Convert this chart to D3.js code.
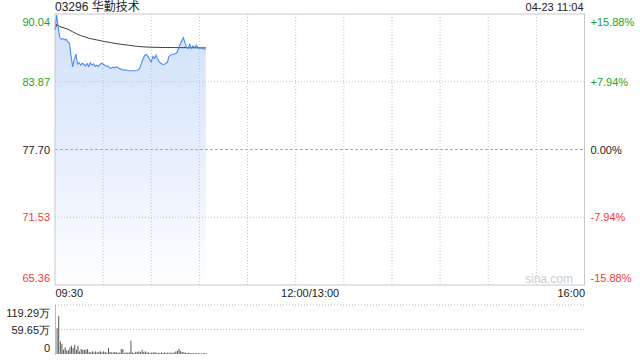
<!DOCTYPE html>
<html>
<head>
<meta charset="utf-8">
<script src="https://cdn.jsdelivr.net/npm/d3@7"></script>
<style>
  body { margin: 0; background: #fff; }
  svg { font-family: "Liberation Sans", Arial, "Noto Sans CJK SC", sans-serif; }
</style>
</head>
<body>
<svg id="chart" width="640" height="360"></svg>
<script>
// 종목 정보
const stockTitle = "03296 华勤技术";
const stampText = "04-23 11:04";
const prevClose = 77.70;

const priceTicks = [90.04, 83.87, 77.70, 71.53, 65.36];
const pctTicks = [15.88, 7.94, 0, -7.94, -15.88];
const volTicks = [119.29, 59.65, 0];
const timeTicks = [0, 150, 330];
const timeLabels = ["09:30", "12:00/13:00", "16:00"];

// 분 단위 가격 (09:30 ~ 11:04)
const prices = [
  88.64, 89.95, 88.80, 87.89, 87.74, 87.80, 87.68, 87.74, 87.50, 87.38,
  86.23, 85.23, 85.93, 86.38, 85.47, 85.62, 85.38, 85.56, 85.44, 85.32,
  85.53, 85.26, 85.62, 85.38, 85.50, 85.26, 85.38, 85.26, 85.44, 85.56,
  85.47, 85.38, 85.26, 85.32, 85.14, 85.08, 85.20, 85.14, 85.23, 85.20,
  85.08, 85.02, 84.96, 84.93, 84.96, 84.90, 84.87, 84.87, 84.87, 84.87,
  84.87, 84.90, 84.96, 85.17, 85.62, 85.99, 86.29, 86.35, 86.17, 85.87,
  85.68, 86.17, 85.99, 86.29, 85.93, 85.68, 85.56, 85.47, 85.44, 85.56,
  85.62, 86.17, 86.29, 86.35, 86.38, 86.41, 86.53, 86.90, 87.29, 87.59,
  87.89, 87.44, 86.99, 86.90, 87.29, 86.90, 87.14, 86.96, 87.20, 87.02,
  86.90, 86.96, 86.90, 86.84, 86.84
];

// 평균가
const avgPrices = [
  88.60, 89.10, 89.00, 88.90, 88.85, 88.80, 88.75, 88.71, 88.65, 88.58,
  88.50, 88.42, 88.34, 88.27, 88.20, 88.14, 88.08, 88.03, 87.98, 87.94,
  87.89, 87.84, 87.80, 87.77, 87.74, 87.71, 87.68, 87.65, 87.62, 87.59,
  87.56, 87.53, 87.51, 87.48, 87.45, 87.43, 87.40, 87.37, 87.35, 87.33,
  87.31, 87.29, 87.27, 87.25, 87.23, 87.21, 87.19, 87.17, 87.15, 87.13,
  87.11, 87.10, 87.08, 87.07, 87.06, 87.05, 87.04, 87.03, 87.03, 87.02,
  87.02, 87.01, 87.01, 87.00, 87.00, 87.00, 86.99, 86.99, 86.99, 86.99,
  86.99, 86.99, 86.99, 86.99, 86.99, 86.98, 86.98, 86.98, 86.98, 86.98,
  86.98, 86.98, 86.97, 86.97, 86.97, 86.97, 86.97, 86.97, 86.96, 86.96,
  86.96, 86.96, 86.96, 86.96, 86.96
];

// 거래량 (만)
const volumes = [
  119.29, 62.9, 92.7, 30.6, 25.0, 10.5, 16.0, 8.9, 8.9, 16.0,
  20.0, 14.5, 22.6, 10.5, 20.0, 6.4, 12.0, 10.5, 10.5, 10.5,
  12.0, 4.8, 4.0, 6.4, 4.0, 6.4, 4.0, 5.6, 6.4, 4.0,
  6.4, 4.8, 3.2, 14.5, 4.8, 4.0, 4.0, 4.8, 4.0, 3.2,
  3.2, 12.0, 12.0, 2.4, 4.0, 3.2, 4.0, 32.2, 4.0, 2.4,
  5.6, 4.8, 6.4, 4.8, 10.5, 4.8, 6.4, 4.0, 4.0, 2.4,
  4.0, 3.2, 4.8, 2.4, 3.2, 2.4, 4.0, 2.4, 4.0, 2.4,
  4.0, 2.4, 4.0, 2.4, 4.0, 6.4, 8.0, 12.0, 7.2, 4.8,
  4.0, 3.2, 2.4, 3.2, 2.4, 2.4, 1.6, 2.4, 1.6, 2.4,
  1.6, 1.6, 1.6, 2.4, 1.6
];

const green = "#1f9f2a";
const red = "#ee3b3b";
const plotLeft = 55, plotRight = 584.5;
const plotTop = 14, plotBottom = 285;
const volTop = 305, volBottom = 354;

const svg = d3.select("#chart");

const x = d3.scaleLinear().domain([0, 330]).range([plotLeft, plotRight]);
const y = d3.scaleLinear().domain([65.36, 90.04]).range([plotBottom, plotTop]);
const yPct = d3.scaleLinear().domain([-15.88, 15.88]).range([plotBottom, plotTop]);
const yVol = d3.scaleLinear().domain([0, 119.29]).range([volBottom, volTop]);

const colorOf = v => v > 0 ? green : v < 0 ? red : "#222";

// 그라데이션
const grad = svg.append("defs").append("linearGradient")
  .attr("id", "fillGrad").attr("x1", 0).attr("y1", 0).attr("x2", 0).attr("y2", 1);
grad.append("stop").attr("offset", "0%").attr("stop-color", "#d0e0fa");
grad.append("stop").attr("offset", "100%").attr("stop-color", "#fdfeff");

// 면적
const area = d3.area()
  .x((d, i) => x(i))
  .y0(plotBottom)
  .y1(d => y(d));

svg.append("path")
  .datum(prices)
  .attr("d", area)
  .attr("fill", "url(#fillGrad)");

// 세로 격자
svg.append("g")
  .selectAll("line")
  .data(d3.range(30, 330, 30))
  .join("line")
  .attr("x1", d => x(d)).attr("x2", d => x(d))
  .attr("y1", plotTop).attr("y2", plotBottom)
  .attr("stroke", "#c4c4c4")
  .attr("stroke-dasharray", "1,2");

// 가로 격자
svg.append("g")
  .selectAll("line")
  .data(priceTicks.slice(1, -1))
  .join("line")
  .attr("x1", plotLeft).attr("x2", plotRight)
  .attr("y1", d => y(d)).attr("y2", d => y(d))
  .attr("stroke", d => d === prevClose ? "#aaa" : "#c4c4c4")
  .attr("stroke-dasharray", d => d === prevClose ? "3,2" : "1,2");

svg.append("path")
  .datum(avgPrices)
  .attr("d", d3.line().x((d, i) => x(i)).y(d => y(d)))
  .attr("fill", "none")
  .attr("stroke", "#333")
  .attr("stroke-width", 1);

svg.append("path")
  .datum(prices)
  .attr("d", d3.line().x((d, i) => x(i)).y(d => y(d)))
  .attr("fill", "none")
  .attr("stroke", "#4a8cf0")
  .attr("stroke-width", 1.1);

// 테두리
svg.append("rect")
  .attr("x", plotLeft).attr("y", plotTop)
  .attr("width", plotRight - plotLeft).attr("height", plotBottom - plotTop)
  .attr("fill", "none")
  .attr("stroke", "#c8c8c8");

const pctFormat = d => (d > 0 ? "+" : d < 0 ? "-" : "") + Math.abs(d).toFixed(2) + "%";

// 왼쪽 가격축
svg.append("g")
  .attr("transform", `translate(${plotLeft},0)`)
  .call(d3.axisLeft(y).tickValues(priceTicks).tickSize(0).tickPadding(5).tickFormat(d => d.toFixed(2)))
  .call(g => g.select(".domain").remove())
  .call(g => g.selectAll(".tick text")
    .attr("font-size", 11)
    .attr("font-family", null)
    .attr("fill", d => colorOf(d - prevClose))
    .attr("dy", (d, i) => i === 0 ? "1em" : i === priceTicks.length - 1 ? "-0.3em" : "0.32em"));

// 오른쪽 퍼센트축
svg.append("g")
  .attr("transform", `translate(${plotRight},0)`)
  .call(d3.axisRight(yPct).tickValues(pctTicks).tickSize(0).tickPadding(6).tickFormat(pctFormat))
  .call(g => g.select(".domain").remove())
  .call(g => g.selectAll(".tick text")
    .attr("font-size", 11)
    .attr("font-family", null)
    .attr("fill", d => colorOf(d))
    .attr("dy", (d, i) => i === 0 ? "1em" : i === pctTicks.length - 1 ? "-0.3em" : "0.32em"));

// 시간축
svg.append("g")
  .attr("transform", `translate(0,${plotBottom})`)
  .call(d3.axisBottom(x).tickValues(timeTicks).tickSize(0).tickPadding(4)
    .tickFormat((d, i) => timeLabels[i]))
  .call(g => g.select(".domain").remove())
  .call(g => g.selectAll(".tick text")
    .attr("font-size", 11)
    .attr("font-family", null)
    .attr("fill", "#222")
    .attr("text-anchor", (d, i) => i === 0 ? "start" : i === timeTicks.length - 1 ? "end" : "middle")
    .attr("dx", (d, i) => i === 1 ? 14 : 0));

// 워터마크
svg.append("text")
  .attr("x", 573).attr("y", 283)
  .attr("text-anchor", "end")
  .attr("font-size", 12)
  .attr("fill", "#ccc")
  .text("sina.com");

// 제목
svg.append("text")
  .attr("x", plotLeft).attr("y", 11)
  .attr("font-size", 12)
  .attr("fill", "#222")
  .text(stockTitle);

svg.append("text")
  .attr("x", plotRight - 1).attr("y", 11)
  .attr("text-anchor", "end")
  .attr("font-size", 11)
  .attr("fill", "#222")
  .text(stampText);

// 거래량 격자
svg.append("g")
  .selectAll("line")
  .data(volTicks.slice(0, 2))
  .join("line")
  .attr("x1", plotLeft).attr("x2", plotRight)
  .attr("y1", d => yVol(d)).attr("y2", d => yVol(d))
  .attr("stroke", "#bbb")
  .attr("stroke-dasharray", "1,2");

svg.append("g")
  .selectAll("rect")
  .data(volumes)
  .join("rect")
  .attr("x", (d, i) => x(i))
  .attr("y", d => yVol(d))
  .attr("width", 1)
  .attr("height", d => yVol(0) - yVol(d))
  .attr("fill", "#555");

svg.append("g")
  .attr("transform", `translate(${plotLeft},0)`)
  .call(d3.axisLeft(yVol).tickValues(volTicks).tickSize(0).tickPadding(5)
    .tickFormat(d => d === 0 ? "0" : d.toFixed(2) + "万"))
  .call(g => g.select(".domain").attr("stroke", "#bbb").attr("d", `M0.5,${volTop}V${volBottom + 1}`))
  .call(g => g.selectAll(".tick text")
    .attr("font-size", 11)
    .attr("font-family", null)
    .attr("fill", "#222")
    .attr("dy", (d, i) => i === 0 ? "1em" : i === volTicks.length - 1 ? "-0.25em" : "0.32em"));
</script>
</body>
</html>
